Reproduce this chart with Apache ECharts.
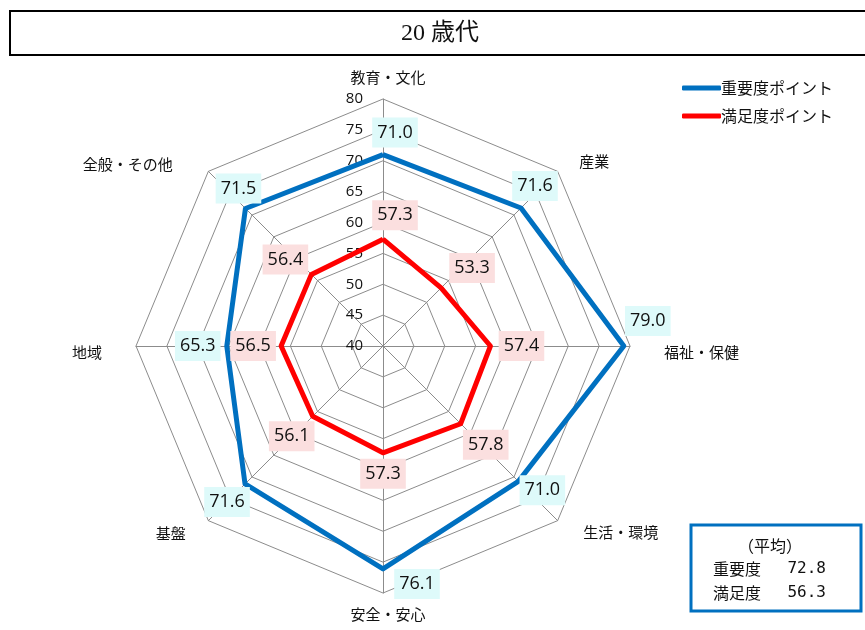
<!DOCTYPE html>
<html><head><meta charset="utf-8">
<script src="https://cdn.jsdelivr.net/npm/echarts@6/dist/echarts.min.js"></script>
<style>html,body{margin:0;padding:0;background:#fff}#c{width:865px;height:630px}</style>
</head><body><div id="c"></div>
<script>
// ---- data ----
const titleText = '20 歳代';
const categories = ['教育・文化', '産業', '福祉・保健', '生活・環境', '安全・安心', '基盤', '地域', '全般・その他'];
const seriesNames = ['重要度ポイント', '満足度ポイント'];
const importance = [71.0, 71.6, 79.0, 71.0, 76.1, 71.6, 65.3, 71.5];
const satisfaction = [57.3, 53.3, 57.4, 57.8, 57.3, 56.1, 56.5, 56.4];
const avgTitle = '（平均）';
const avgLabels = ['重要度', '満足度'];
const avgValues = [72.8, 56.3];
const axisMin = 40, axisMax = 80, axisStep = 5;

// ---- layout / style ----
const CX = 383, CY = 346, R = 247;
const colors = ['#0070c0', '#ff0000'];
const labelBg = ['#defafa', '#fbdfdf'];
const labelOffsets = [
  [[12, -22], [14, -22], [24, -25], [24, 9], [34, 15], [-18, 18], [-29, 0], [-7, -20]],
  [[12, -24], [31, -20], [31, 0], [25, 21], [0, 21], [-21, 20], [-28, 0], [-26, -15]]
];
const nameGaps = [10, 22, 34, 22, 10, 22, 32, 22];
// per-category name text tweaks (clockwise from top)
const nameStyles = [
  { padding: [0, 0, 4, 10] },
  { padding: [0, 0, 0, 6], verticalAlign: 'top', lineHeight: 12 },
  { padding: [0, 0, 0, 0], verticalAlign: 'top', lineHeight: 12 },
  { padding: [0, 0, 0, 10], verticalAlign: 'bottom', lineHeight: 8 },
  { padding: [4, 0, 0, 10] },
  { padding: [0, 7, 0, 0], verticalAlign: 'bottom', lineHeight: 6 },
  { padding: [0, 2, 0, 0], verticalAlign: 'top', lineHeight: 12 },
  { padding: [0, 20, 0, 0], verticalAlign: 'top', lineHeight: 18 }
];
const font = '"Noto Sans CJK JP", "Noto Sans", sans-serif';

// ECharts draws radar indicators counter-clockwise; the reference is clockwise.
const order = [0, 7, 6, 5, 4, 3, 2, 1];
const indicators = order.map(function (i) {
  const ind = {
    name: categories[i], min: axisMin, max: axisMax, nameGap: nameGaps[i],
    nameTextStyle: nameStyles[i]
  };
  if (i === 0) ind.axisLabel = {
    show: true, fontSize: 15, color: '#111', margin: 20,
    fontFamily: '"Open Sans", "Noto Sans", sans-serif',
    showMinLabel: true, showMaxLabel: true
  };
  return ind;
});
const reorder = function (arr) { return order.map(function (i) { return arr[i]; }); };
const seriesData = [importance, satisfaction];

const chart = echarts.init(document.getElementById('c'), null, { renderer: 'canvas' });

const series = seriesData.map(function (vals, s) {
  return {
    type: 'radar',
    name: seriesNames[s],
    z: 2 + s,
    symbol: 'circle',
    symbolSize: 2,
    lineStyle: { color: colors[s], width: 5 },
    itemStyle: { color: colors[s] },
    label: {
      show: true,
      position: 'inside',
      formatter: function (p) { return Number(p.value).toFixed(1); },
      color: '#111',
      fontSize: 18,
      fontFamily: '"Open Sans", "Noto Sans", sans-serif',
      backgroundColor: labelBg[s],
      padding: [4, 5, 3, 5],
      lineHeight: 23
    },
    labelLayout: function (p) {
      const r = p.rect;
      const x = r.x + r.width / 2, y = r.y + r.height / 2;
      const ang = Math.atan2(x - CX, CY - y);
      const k = (Math.round(ang / (Math.PI / 4)) + 8) % 8;
      const off = labelOffsets[s][k];
      return { dx: off[0], dy: off[1] };
    },
    data: [{ name: seriesNames[s], value: reorder(vals) }]
  };
});

chart.setOption({
  animation: false,
  backgroundColor: '#fff',
  legend: {
    orient: 'vertical',
    left: 677,
    top: 75,
    itemWidth: 39,
    itemHeight: 5,
    itemGap: 12,
    icon: 'roundRect',
    data: seriesNames,
    textStyle: { fontFamily: font, fontSize: 16, color: '#111', padding: [0, 0, 0, -5] }
  },
  radar: {
    center: [CX, CY],
    radius: R,
    startAngle: 90,
    shape: 'polygon',
    splitNumber: (axisMax - axisMin) / axisStep,
    indicator: indicators,
    axisName: { color: '#111', fontFamily: font, fontSize: 15 },
    axisLine: { lineStyle: { color: '#8c8c8c', width: 1 } },
    splitLine: { lineStyle: { color: '#8c8c8c', width: 1 } },
    splitArea: { show: false },
    axisTick: { show: false },
    axisLabel: {
      show: false,
      color: '#111',
      fontSize: 15,
      fontFamily: '"Open Sans", "Noto Sans", sans-serif',
      margin: 20,
      showMinLabel: true,
      showMaxLabel: true,
      hideOverlap: false
    }
  },
  graphic: [
    { type: 'rect', z: 0, shape: { x: 10, y: 11, width: 880, height: 44 }, style: { fill: '#fff', stroke: '#000', lineWidth: 2 } },
    { type: 'text', z: 1, x: 440, y: 34, style: { text: titleText, fill: '#111', font: '24px "Liberation Serif", "DejaVu Serif", "Noto Sans CJK JP", serif', textAlign: 'center', textVerticalAlign: 'middle' } },
    { type: 'rect', z: 0, shape: { x: 691, y: 525, width: 170, height: 86 }, style: { fill: '#fff', stroke: colors[0], lineWidth: 3 } },
    { type: 'text', z: 1, x: 770, y: 546, style: { text: avgTitle, fill: '#111', font: '16px "Noto Sans CJK JP", sans-serif', textAlign: 'center', textVerticalAlign: 'middle' } },
    { type: 'text', z: 1, x: 713, y: 569, style: { text: avgLabels[0], fill: '#111', font: '16px "Noto Sans CJK JP", sans-serif', textAlign: 'left', textVerticalAlign: 'middle' } },
    { type: 'text', z: 1, x: 826, y: 569, style: { text: avgValues[0].toFixed(1), fill: '#111', font: '16px "DejaVu Sans Mono", monospace', textAlign: 'right', textVerticalAlign: 'middle' } },
    { type: 'text', z: 1, x: 713, y: 593, style: { text: avgLabels[1], fill: '#111', font: '16px "Noto Sans CJK JP", sans-serif', textAlign: 'left', textVerticalAlign: 'middle' } },
    { type: 'text', z: 1, x: 826, y: 593, style: { text: avgValues[1].toFixed(1), fill: '#111', font: '16px "DejaVu Sans Mono", monospace', textAlign: 'right', textVerticalAlign: 'middle' } }
  ],
  series: series
});
</script></body></html>
